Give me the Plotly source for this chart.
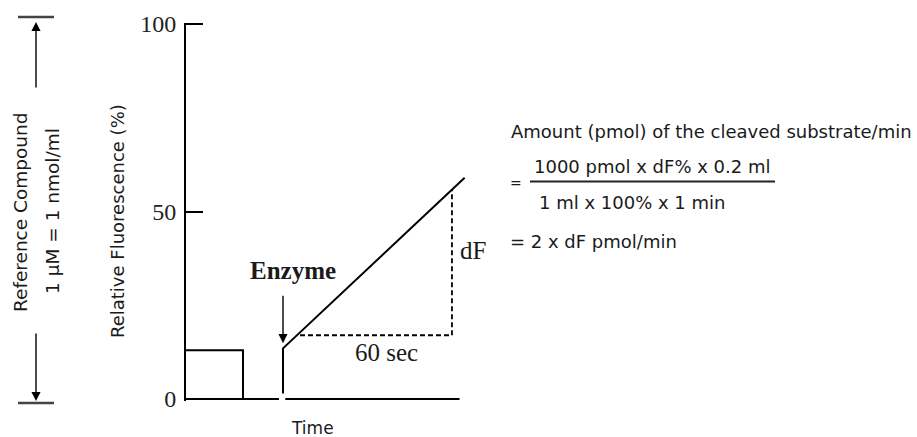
import plotly.graph_objects as go

W, H = 917, 437

# ---- data (time in seconds, fluorescence in %) ----
y_ticks = [0, 50, 100]
y_tick_labels = ["0", "50", "100"]

axis_time = [0, 36.7, None, 39.2, 108]
axis_val = [0, 0, None, 0, 0]

ref_time = [0, 22.5, 22.5]
ref_val = [13, 13, 0]

enz_time = [38.3, 38.3, 110]
enz_val = [1.5, 13.5, 59]

slope_time = [45, 105, 105]
slope_val = [17, 17, 56]

enzyme_add_time = 38.3
enzyme_arrow_val = 14.9

# ---- pixel helpers for layout ----
PX_PER_SEC = 2.533
PX_PER_PCT = 3.75
X0 = 186
Y0 = 399      # pixel row of 0 %
PAD = 0.4     # tiny range padding so the end ticks are drawn
def px(x):
    return x / W
def py(y):
    return 1 - y / H

SANS = "DejaVu Sans"
SERIF = "Liberation Serif"
TXT = "#1a1a1a"

fig = go.Figure()
line_style = dict(color="black", width=2)
fig.add_trace(go.Scatter(x=axis_time, y=axis_val, mode="lines", line=line_style, connectgaps=False, hoverinfo="skip"))
fig.add_trace(go.Scatter(x=ref_time, y=ref_val, mode="lines", line=line_style, hoverinfo="skip"))
fig.add_trace(go.Scatter(x=enz_time, y=enz_val, mode="lines", line=line_style, hoverinfo="skip"))
fig.add_trace(go.Scatter(x=slope_time, y=slope_val, mode="lines",
                         line=dict(color="black", width=1.8, dash="5px,3px"), hoverinfo="skip"))

ann = []
# Enzyme arrow and label
ann.append(dict(x=enzyme_add_time, y=enzyme_arrow_val, xref="x", yref="y", text="",
                showarrow=True, ax=0, ay=-49, arrowhead=2, arrowsize=1.3, arrowwidth=1.4,
                arrowcolor="black", standoff=0))
ann.append(dict(x=42.2, y=34.4, xref="x", yref="y", text="<b>Enzyme</b>", showarrow=False,
                font=dict(family=SERIF, size=25, color=TXT), xanchor="center", yanchor="middle"))
ann.append(dict(x=79, y=12.4, xref="x", yref="y", text="60 sec", showarrow=False,
                font=dict(family=SERIF, size=25, color=TXT), xanchor="center", yanchor="middle"))
ann.append(dict(x=107.5, y=39.5, xref="x", yref="y", text="dF", showarrow=False,
                font=dict(family=SERIF, size=25, color=TXT), xanchor="left", yanchor="middle"))
ann.append(dict(x=50, y=py(428), xref="x", yref="paper", text="Time", showarrow=False,
                font=dict(family=SANS, size=17, color=TXT), xanchor="center", yanchor="middle"))

# y-axis title and reference compound texts
ann.append(dict(x=px(117), y=py(221), xref="paper", yref="paper", text="Relative Fluorescence (%)",
                textangle=-90, showarrow=False, xanchor="center", yanchor="middle",
                font=dict(family=SANS, size=18, color=TXT)))
ann.append(dict(x=px(20), y=py(212), xref="paper", yref="paper", text="Reference Compound",
                textangle=-90, showarrow=False, xanchor="center", yanchor="middle",
                font=dict(family=SANS, size=18.5, color=TXT)))
ann.append(dict(x=px(52), y=py(211), xref="paper", yref="paper", text="1 µM = 1 nmol/ml",
                textangle=-90, showarrow=False, xanchor="center", yanchor="middle",
                font=dict(family=SANS, size=18.5, color=TXT)))
# bracket arrows
ann.append(dict(x=px(36), y=py(22), xref="paper", yref="paper", text="", showarrow=True,
                ax=0, ay=67, arrowhead=2, arrowsize=1.3, arrowwidth=1.4, arrowcolor="black", standoff=0))
ann.append(dict(x=px(36), y=py(401), xref="paper", yref="paper", text="", showarrow=True,
                ax=0, ay=-69, arrowhead=2, arrowsize=1.3, arrowwidth=1.4, arrowcolor="black", standoff=0))

# formula
fsty = dict(family=SANS, size=18, color=TXT)
ann.append(dict(x=px(509), y=py(131), xref="paper", yref="paper", text="Amount (pmol) of the cleaved substrate/min",
                showarrow=False, font=fsty, xanchor="left", yanchor="middle"))
ann.append(dict(x=px(508), y=py(183), xref="paper", yref="paper", text="=",
                showarrow=False, font=dict(family=SANS, size=14, color=TXT), xanchor="left", yanchor="middle"))
ann.append(dict(x=px(652), y=py(166), xref="paper", yref="paper", text="1000 pmol x dF% x 0.2 ml",
                showarrow=False, font=fsty, xanchor="center", yanchor="middle"))
ann.append(dict(x=px(632), y=py(202), xref="paper", yref="paper", text="1 ml x 100% x 1 min",
                showarrow=False, font=fsty, xanchor="center", yanchor="middle"))
ann.append(dict(x=px(508), y=py(241), xref="paper", yref="paper", text="= 2 x dF pmol/min",
                showarrow=False, font=fsty, xanchor="left", yanchor="middle"))

shapes = [
    dict(type="line", xref="paper", yref="paper", x0=px(530), x1=px(775), y0=py(181.5), y1=py(181.5),
         line=dict(color="#222", width=2.2)),
    dict(type="line", xref="paper", yref="paper", x0=px(18), x1=px(54), y0=py(17), y1=py(17),
         line=dict(color="#444", width=2.5)),
    dict(type="line", xref="paper", yref="paper", x0=px(18), x1=px(54), y0=py(403), y1=py(403),
         line=dict(color="#444", width=2.5)),
]

y_bottom_px = Y0 + PAD * PX_PER_PCT
y_top_px = Y0 - (100 + PAD) * PX_PER_PCT

fig.update_layout(
    template="none",
    width=W, height=H, autosize=False,
    margin=dict(l=0, r=0, t=0, b=0, pad=0, autoexpand=False),
    paper_bgcolor="white", plot_bgcolor="white",
    showlegend=False,
    annotations=ann, shapes=shapes,
    xaxis=dict(domain=[X0 / W, 1], range=[0, (W - X0) / PX_PER_SEC], automargin=False,
               showline=False, showgrid=False, zeroline=False, showticklabels=False, ticks=""),
    yaxis=dict(domain=[py(y_bottom_px), py(y_top_px)], range=[-PAD, 100 + PAD], automargin=False,
               showline=True, linecolor="black", linewidth=2,
               ticks="inside", ticklen=17, tickwidth=2, tickcolor="black",
               tickvals=y_ticks, ticktext=y_tick_labels,
               tickfont=dict(family=SERIF, size=24, color="#222"),
               ticklabelstandoff=3,
               showgrid=False, zeroline=False),
)

fig.write_html("out.html", config={"displayModeBar": False},
               post_script="document.body.style.margin='0';document.body.style.padding='0';")
